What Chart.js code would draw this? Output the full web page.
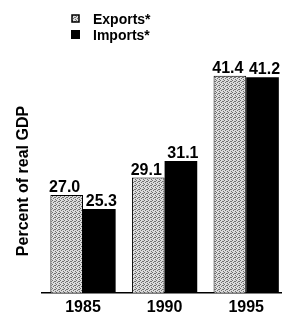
<!DOCTYPE html>
<html>
<head>
<meta charset="utf-8">
<script src="https://cdn.jsdelivr.net/npm/chart.js@4.4.1/dist/chart.umd.min.js"></script>
<style>
  html, body { margin: 0; padding: 0; background: #fff; overflow: hidden; }
  #wrap { position: relative; width: 287px; height: 322px; }
</style>
</head>
<body>
<div id="wrap"><canvas id="tradeChart" width="287" height="322"></canvas></div>
<script>
// --- data ---
const years = ['1985', '1990', '1995'];
const exportsPct = [27.0, 29.1, 41.4];
const importsPct = [25.3, 31.1, 41.2];
const seriesNames = ['Exports*', 'Imports*'];
const axisTitle = 'Percent of real GDP';

const FONT = '"Liberation Sans", Arial, sans-serif';

// stippled grey fill for the exports bars
function makeStipple() {
    const c = document.createElement('canvas');
    c.width = 4; c.height = 4;
    const g = c.getContext('2d');
    g.fillStyle = '#dcdcdc';
    g.fillRect(0, 0, 4, 4);
    g.fillStyle = '#707070';
    [[0, 0], [2, 1], [1, 2], [3, 3], [3, 1]].forEach(([x, y]) => g.fillRect(x, y, 1, 1));
    return g.createPattern(c, 'repeat');
}
const stipple = makeStipple();

// value labels above each bar (pushed apart a little, like the original)
const valueLabels = {
    id: 'valueLabels',
    afterDatasetsDraw(chart) {
        const ctx = chart.ctx;
        ctx.save();
        ctx.font = 'bold 16px ' + FONT;
        ctx.fillStyle = '#000';
        ctx.textAlign = 'center';
        ctx.textBaseline = 'alphabetic';
        chart.data.datasets.forEach((ds, i) => {
            const nudge = i === 0 ? -2 : 2;
            chart.getDatasetMeta(i).data.forEach((bar, j) => {
                ctx.fillText(ds.data[j].toFixed(1), bar.x + nudge, bar.y - 3);
            });
        });
        ctx.restore();
    }
};

// legend in the top-left corner and the rotated axis title
const decorations = {
    id: 'decorations',
    afterDraw(chart) {
        const ctx = chart.ctx;
        ctx.save();
        ctx.font = 'bold 14px ' + FONT;
        ctx.textBaseline = 'alphabetic';
        ctx.textAlign = 'left';
        // exports box
        ctx.fillStyle = stipple;
        ctx.fillRect(72, 15, 7, 7);
        ctx.strokeStyle = '#000';
        ctx.lineWidth = 1.5;
        ctx.strokeRect(72, 15, 7, 7);
        // imports box
        ctx.fillStyle = '#000';
        ctx.fillRect(71, 30, 9, 9);
        ctx.fillText(seriesNames[0], 93, 24);
        ctx.fillText(seriesNames[1], 93, 40);

        // y axis title
        ctx.translate(24, 181);
        ctx.rotate(-Math.PI / 2);
        ctx.font = 'bold 16px ' + FONT;
        ctx.textAlign = 'center';
        ctx.textBaseline = 'middle';
        ctx.fillText(axisTitle, 0, 0);
        ctx.restore();
    }
};

const ctx = document.getElementById('tradeChart').getContext('2d');

new Chart(ctx, {
    type: 'bar',
    data: {
        labels: years,
        datasets: [
            {
                label: seriesNames[0],
                data: exportsPct,
                backgroundColor: stipple,
                borderColor: '#000',
                borderWidth: 1,
                borderSkipped: 'bottom',
                categoryPercentage: 0.8,
                barPercentage: 1.0
            },
            {
                label: seriesNames[1],
                data: importsPct,
                backgroundColor: '#000',
                borderColor: '#000',
                borderWidth: 0,
                categoryPercentage: 0.8,
                barPercentage: 1.0
            }
        ]
    },
    options: {
        responsive: false,
        animation: false,
        layout: { padding: { left: 42.2, top: 16, right: 0, bottom: 0 } },
        scales: {
            x: {
                grid: { display: false, drawTicks: false },
                border: { display: true, color: '#000', width: 1.5 },
                ticks: {
                    color: '#000',
                    font: { family: FONT, size: 16, weight: 'bold' },
                    padding: 5,
                    maxRotation: 0
                }
            },
            y: {
                display: false,
                min: 15.2,
                max: 48.6
            }
        },
        plugins: {
            legend: { display: false },
            tooltip: { enabled: false }
        }
    },
    plugins: [valueLabels, decorations]
});
</script>
</body>
</html>
